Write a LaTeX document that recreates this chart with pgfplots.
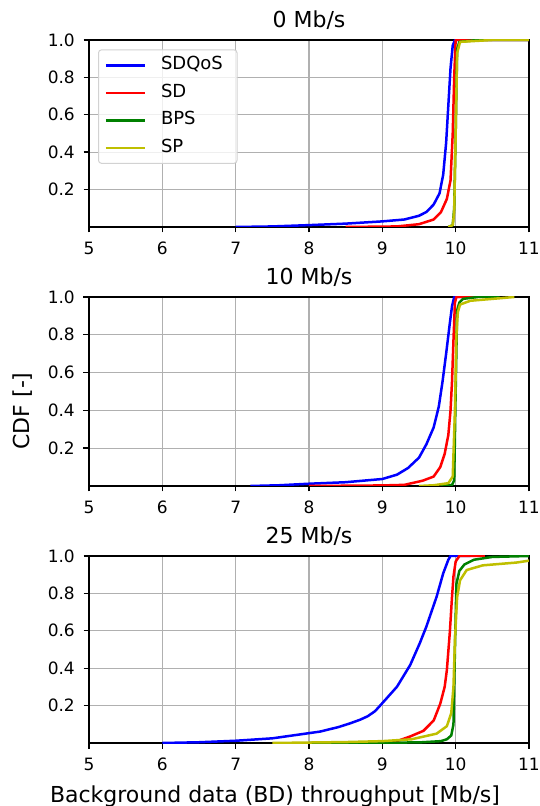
\documentclass[border=0pt]{standalone}
\usepackage{fontspec}
\setmainfont{DejaVu Sans}
\usepackage{pgfplots}
\pgfplotsset{compat=1.18}
\definecolor{mplblue}{rgb}{0,0,1}
\definecolor{mplred}{rgb}{1,0,0}
\definecolor{mplgreen}{rgb}{0,0.5,0}
\definecolor{mplyellow}{rgb}{0.75,0.75,0}
\definecolor{gridgray}{RGB}{176,176,176}
\pgfplotsset{
  cdfaxis/.style={
    scale only axis, width=440pt,
    xmin=5, xmax=11, ymin=0, ymax=1,
    xtick={5,6,7,8,9,10,11}, ytick={0.2,0.4,0.6,0.8,1.0},
    /pgf/number format/assume math mode=true,
    yticklabel style={/pgf/number format/fixed, /pgf/number format/fixed zerofill, /pgf/number format/precision=1},
    tick label style={font=\fontsize{17}{17}\selectfont},
    xticklabel style={inner sep=1.5pt, yshift=-8pt},
    yticklabel style={inner xsep=4pt, xshift=-4.5pt},
    axis line style={line width=1.4pt},
    every tick/.style={black, line width=1.4pt},
    major tick length=5.5pt, tick align=outside, tick pos=left,
    grid=major, major grid style={gridgray, line width=1.1pt},
    title style={at={(0.5,1)}, anchor=base, yshift=6pt, font=\fontsize{22}{22}\selectfont},
    every axis plot/.append style={line width=2.5pt, line join=round},
  }
}
\begin{document}
\begin{tikzpicture}[x=1pt,y=1pt]
\useasboundingbox (0,0) rectangle (540,806);
% ---------------- 0 Mb/s
\begin{axis}[cdfaxis, height=187pt, at={(89pt,579pt)}, anchor=south west,
  title={0 Mb/s},
  legend cell align=left,
  legend style={at={(0.0205,0.950)}, anchor=north west, draw=gray!35, line width=1pt,
    rounded corners=3pt, fill=white, fill opacity=0.8, text opacity=1,
    font=\fontsize{18}{18}\selectfont, inner xsep=6pt, inner ysep=6pt,
    row sep=8.5pt, column sep=14pt,
    nodes={inner sep=1pt, text width=69pt, text height=13pt, text depth=4pt}},
  legend image code/.code={\draw[#1] (0pt,0pt) -- (39pt,0pt);}]
\addplot[mplblue] coordinates {(7.0,0) (7.5,0.003) (8.0,0.01) (8.5,0.018) (9.0,0.03) (9.3,0.04) (9.5,0.06) (9.6,0.08) (9.7,0.12) (9.78,0.18) (9.83,0.28) (9.87,0.45) (9.9,0.65) (9.93,0.85) (9.96,0.97) (9.99,1.0) (11,1.0)};
\addlegendentry{SDQoS}
\addplot[mplred] coordinates {(8.5,0) (9.2,0.003) (9.5,0.015) (9.7,0.04) (9.8,0.08) (9.88,0.15) (9.93,0.25) (9.96,0.5) (9.98,0.8) (10.0,1.0) (11,1)};
\addlegendentry{SD}
\addplot[mplgreen] coordinates {(9.9,0) (9.96,0.01) (9.98,0.1) (10.0,0.5) (10.02,0.95) (10.05,0.99) (10.3,1) (11,1)};
\addlegendentry{BPS}
\addplot[mplyellow] coordinates {(9.9,0) (9.96,0.01) (9.98,0.08) (10.0,0.5) (10.02,0.93) (10.06,0.99) (10.5,1) (11,1)};
\addlegendentry{SP}
\end{axis}
% ---------------- 10 Mb/s
\begin{axis}[cdfaxis, height=189pt, at={(89pt,320pt)}, anchor=south west,
  title={10 Mb/s},
  ylabel={CDF [-]},
  ylabel style={at={(-0.15,0.397)}, anchor=center, font=\fontsize{22}{22}\selectfont}]
\addplot[mplblue] coordinates {(7.2,0) (7.6,0.004) (8.0,0.012) (8.5,0.02) (9.0,0.037) (9.2,0.06) (9.35,0.095) (9.5,0.15) (9.6,0.22) (9.7,0.31) (9.77,0.42) (9.82,0.55) (9.87,0.7) (9.92,0.86) (9.95,0.95) (9.98,1.0) (10.2,1.0)};
\addplot[mplred] coordinates {(8.0,0) (9.0,0.003) (9.3,0.006) (9.55,0.028) (9.7,0.05) (9.79,0.1) (9.85,0.17) (9.9,0.27) (9.93,0.4) (9.95,0.55) (9.97,0.77) (9.99,0.97) (10.01,1.0) (10.3,1.0)};
\addplot[mplgreen] coordinates {(9.8,0) (9.95,0.005) (9.98,0.03) (10.0,0.5) (10.02,0.93) (10.05,0.97) (10.1,0.99) (10.3,1.0) (10.6,1.0)};
\addplot[mplyellow] coordinates {(9.5,0) (9.7,0.004) (9.9,0.015) (9.96,0.05) (9.99,0.4) (10.01,0.8) (10.03,0.92) (10.06,0.96) (10.2,0.98) (10.5,0.99) (10.8,1.0)};
\end{axis}
% ---------------- 25 Mb/s
\begin{axis}[cdfaxis, height=187pt, at={(89pt,63pt)}, anchor=south west,
  title={25 Mb/s},
  xlabel={Background data (BD) throughput [Mb/s]},
  xlabel style={at={(0.4227,0)}, anchor=base, yshift=-59pt, font=\fontsize{22}{22}\selectfont}]
\addplot[mplblue] coordinates {(6.0,0) (6.5,0.004) (7.0,0.012) (7.5,0.025) (7.88,0.046) (8.15,0.061) (8.4,0.085) (8.56,0.105) (8.7,0.125) (8.8,0.143) (8.9,0.17) (8.97,0.2) (9.05,0.235) (9.2,0.301) (9.38,0.417) (9.51,0.533) (9.6,0.622) (9.74,0.782) (9.83,0.907) (9.9,0.98) (9.93,1.0) (10.2,1.0)};
\addplot[mplred] coordinates {(8.5,0) (9.0,0.003) (9.2,0.01) (9.38,0.035) (9.56,0.065) (9.7,0.12) (9.79,0.21) (9.85,0.3) (9.88,0.39) (9.92,0.59) (9.95,0.78) (9.97,0.89) (10.0,0.97) (10.05,1.0) (10.4,1.0)};
\addplot[mplgreen] coordinates {(8.0,0) (9.5,0.003) (9.8,0.01) (9.88,0.02) (9.94,0.04) (9.97,0.1) (9.99,0.5) (10.01,0.85) (10.05,0.92) (10.12,0.955) (10.25,0.98) (10.5,0.995) (11,1.0)};
\addplot[mplyellow] coordinates {(7.5,0) (8.5,0.005) (9.0,0.01) (9.4,0.02) (9.74,0.05) (9.88,0.09) (9.94,0.16) (9.97,0.3) (9.99,0.55) (10.02,0.78) (10.06,0.87) (10.15,0.925) (10.37,0.95) (10.83,0.965) (11.0,0.975) (11.2,0.98)};
\end{axis}
\end{tikzpicture}
\end{document}
